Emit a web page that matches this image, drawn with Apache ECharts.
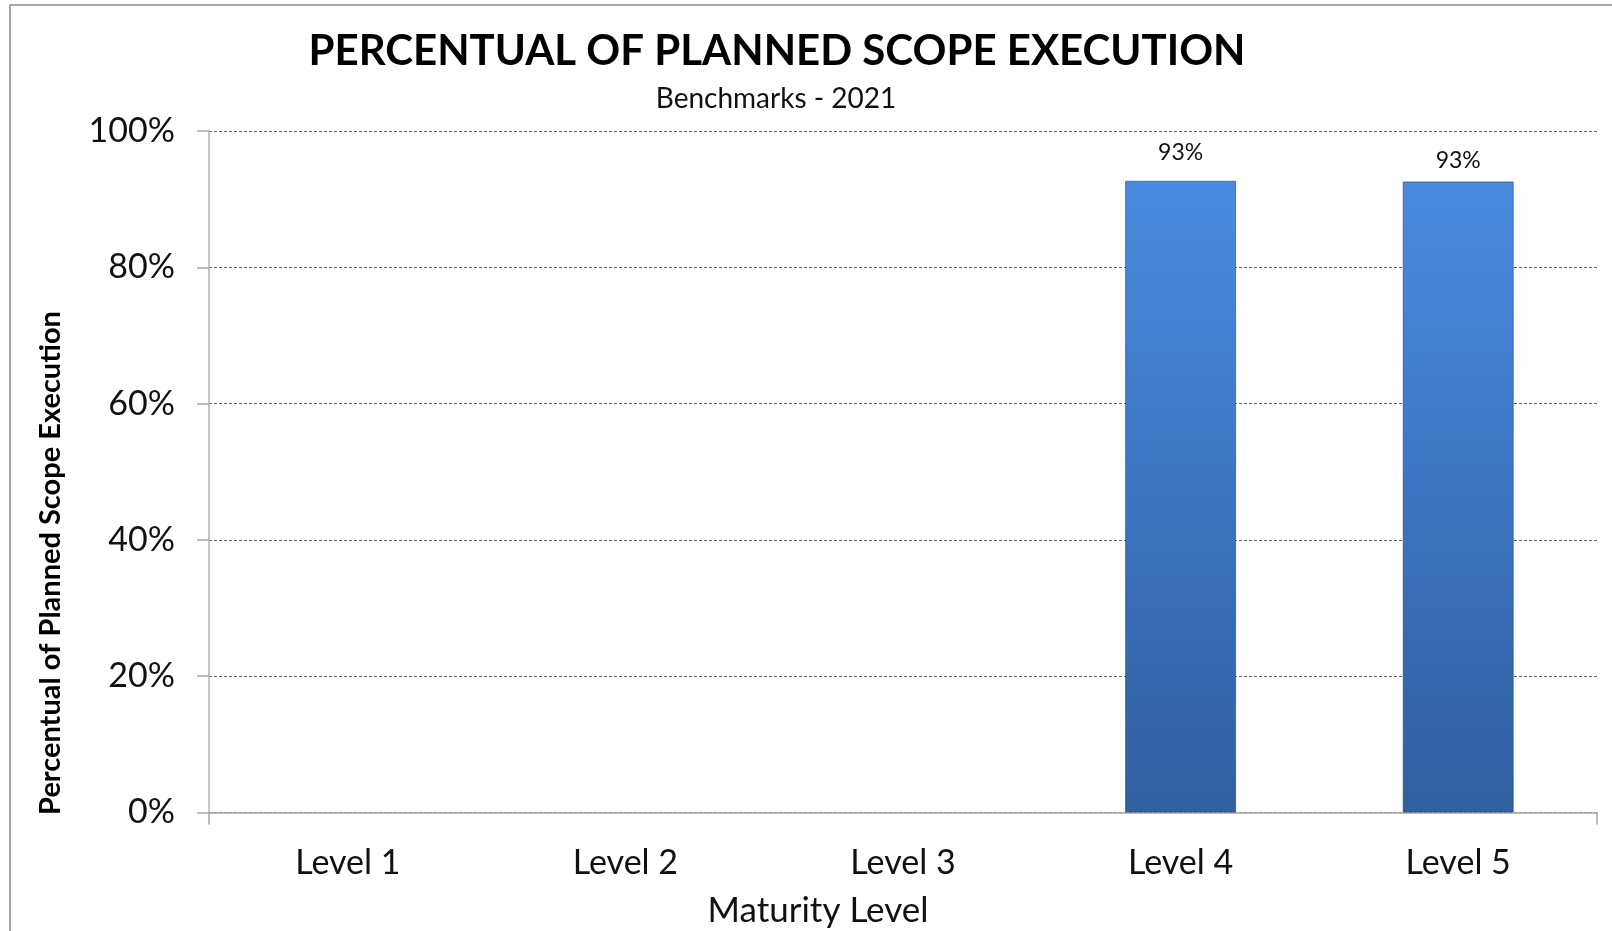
<!DOCTYPE html>
<html>
<head>
<meta charset="utf-8">
<script src="https://cdn.jsdelivr.net/npm/echarts@6/dist/echarts.min.js"></script>
<style>
  html, body { margin: 0; padding: 0; background: #ffffff; }
  #chart { width: 1612px; height: 931px; }
</style>
</head>
<body>
<div id="chart"></div>
<script>
// ---- data ----
const categories = ['Level 1', 'Level 2', 'Level 3', 'Level 4', 'Level 5'];
const values = [null, null, null, 0.927, 0.926];
const valueLabels = ['', '', '', '93%', '93%'];
const yTicks = [0, 0.2, 0.4, 0.6, 0.8, 1.0];

const titleText = 'PERCENTUAL OF PLANNED SCOPE EXECUTION';
const subtitleText = 'Benchmarks - 2021';
const xName = 'Maturity Level';
const yName = 'Percentual of Planned Scope Execution';

// ---- layout / style ----
const FONT = 'Lato, "Open Sans", sans-serif';
const labelDistances = [12, 12, 12, 17, 9];

const chart = echarts.init(document.getElementById('chart'), null, { renderer: 'canvas' });

const barColor = new echarts.graphic.LinearGradient(0, 0, 0, 1, [
  { offset: 0, color: '#4a8be0' },
  { offset: 0.5, color: '#3c74c0' },
  { offset: 1, color: '#2f5f9e' }
]);

const option = {
  backgroundColor: '#ffffff',
  animation: false,
  grid: { left: 209, right: 15, top: 131, bottom: 118.5, containLabel: false },
  xAxis: {
    type: 'category',
    data: categories,
    axisLine: { show: true, lineStyle: { color: '#a6a6a6', width: 1.5 } },
    axisTick: {
      show: true, inside: false, length: 12,
      interval: function (i) { return i === 0; },
      lineStyle: { color: '#a6a6a6', width: 1.5 }
    },
    axisLabel: { color: '#111', fontSize: 34, fontFamily: FONT, margin: 34, interval: 0 },
    splitLine: { show: false }
  },
  yAxis: {
    type: 'value',
    min: 0, max: 1, interval: 0.2,
    axisLine: { show: true, lineStyle: { color: '#b5b5b5', width: 1.5 } },
    axisTick: { show: true, length: 12, lineStyle: { color: '#a6a6a6', width: 1.5 } },
    axisLabel: {
      color: '#111', fontSize: 34, fontFamily: FONT, margin: 34,
      formatter: function (v) {
        const t = yTicks.find(x => Math.abs(x - v) < 1e-9);
        return Math.round((t !== undefined ? t : v) * 100) + '%';
      }
    },
    splitLine: { show: true, lineStyle: { color: '#666', type: [3, 2], width: 1 } }
  },
  series: [{
    type: 'bar',
    barWidth: '40%',
    data: values.map((v, i) => ({
      value: v,
      label: { distance: labelDistances[i] }
    })),
    itemStyle: { color: barColor, borderColor: 'rgba(30,70,130,0.6)', borderWidth: 1 },
    label: {
      show: true,
      position: 'top',
      color: '#111',
      fontSize: 23,
      fontFamily: FONT,
      formatter: p => valueLabels[p.dataIndex]
    }
  }],
  graphic: [
    { type: 'rect', shape: { x: 10, y: 5, width: 1700, height: 1100 }, style: { fill: 'none', stroke: '#8c8c8c', lineWidth: 1.5 }, silent: true, z: -10 },
    { type: 'text', x: 777, y: 51, style: { text: titleText, fontFamily: FONT, fontWeight: 'bold', fontSize: 42, fill: '#000', align: 'center', verticalAlign: 'middle' } },
    { type: 'text', x: 776, y: 99, style: { text: subtitleText, fontFamily: FONT, fontSize: 28, fill: '#111', align: 'center', verticalAlign: 'middle' } },
    { type: 'text', x: 818, y: 911, style: { text: xName, fontFamily: FONT, fontSize: 35, fill: '#111', align: 'center', verticalAlign: 'middle' } },
    { type: 'text', x: 51, y: 563, rotation: Math.PI / 2, style: { text: yName, fontFamily: FONT, fontWeight: 'bold', fontSize: 29, fill: '#000', align: 'center', verticalAlign: 'middle' } }
  ]
};

chart.setOption(option);
</script>
</body>
</html>
